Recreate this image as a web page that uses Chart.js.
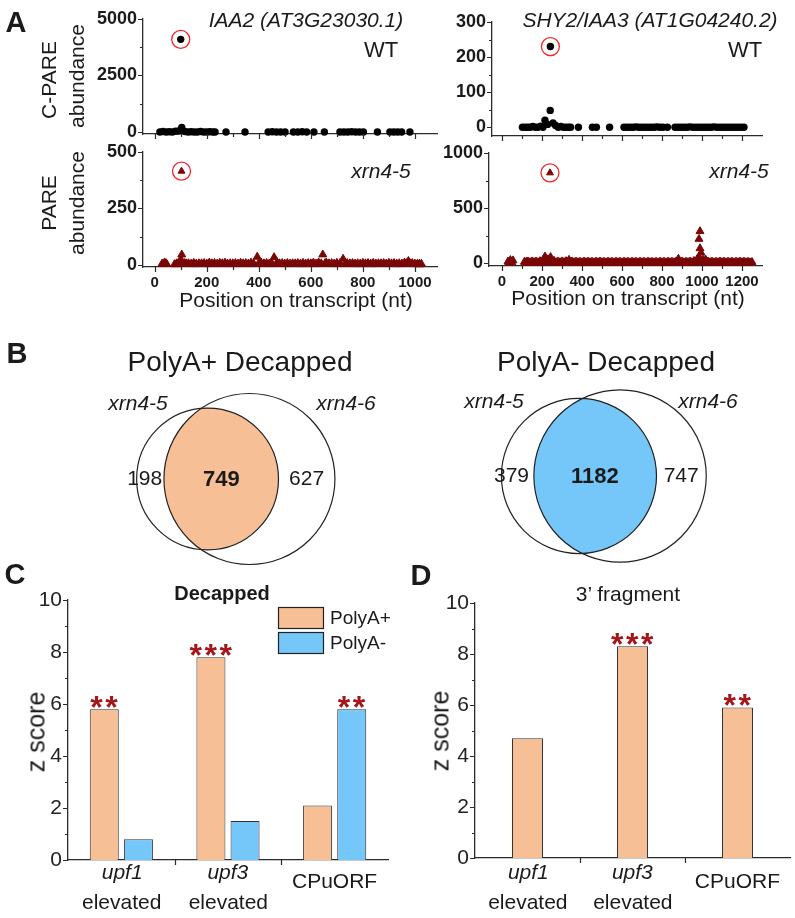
<!DOCTYPE html>
<html><head><meta charset="utf-8">
<title>C-PARE / PARE, Venn and z score panels</title>
<script src="https://cdn.jsdelivr.net/npm/chart.js@4.4.1/dist/chart.umd.min.js"></script>
<style>
html,body{margin:0;padding:0;background:#fff}
body{position:relative;width:795px;height:918px;overflow:hidden;font-family:"Liberation Sans",Arial,Helvetica,sans-serif;color:#1a1a1a}
canvas{position:absolute}
.t{position:absolute;white-space:nowrap;line-height:1;transform:translate(-50%,-50%)}
</style></head><body>
<script>
// ================= DATA =================
// Panel A, IAA2 (AT3G23030.1), WT C-PARE
const iaa2WtPos = [20,32,44,56,68,80,92,104,116,128,140,152,164,176,188,200,212,224,232,274,347,436,452,468,484,501,533,550,567,584,612,652,712,727,742,757,772,787,802,856,904,919,934,949,981];
const iaa2WtVal = [0,20,0,10,0,30,40,200,20,0,10,0,0,20,0,0,10,0,0,0,0,0,10,0,0,0,0,0,10,0,0,0,0,0,0,10,0,0,0,0,0,0,0,0,0];
const iaa2WtPeak = [100, 4100];
// Panel A, IAA2, xrn4-5 PARE (upper layer of the band and low layer)
const iaa2XrnPos = [28,38,46,76,85,100,104,115,130,150,170,190,210,230,250,270,290,310,330,350,370,394,410,430,459,470,490,510,530,550,570,590,610,630,646,660,680,700,724,740,760,780,800,820,840,860,880,900,920,940,960,975,990,1010,1025];
const iaa2XrnVal = [4,10,3,2,6,24,45,7,6,8,6,7,9,7,8,9,6,7,8,7,9,35,8,7,33,11,7,7,6,7,8,7,9,10,45,9,7,8,26,7,7,6,8,7,8,6,7,8,7,6,9,16,7,5,4];
const iaa2XrnLowPos = [33,44,84,92,108,122,140,160,180,200,220,240,260,280,300,320,340,360,380,400,420,440,450,480,500,520,540,560,580,600,620,640,655,670,690,712,732,750,770,790,810,830,850,870,890,910,930,950,968,982,1000,1018];
const iaa2XrnLowVal = [3,4,3,3,5,4,3,3,4,3,4,3,4,3,4,3,4,3,4,5,4,3,5,4,3,3,4,3,3,4,3,4,5,4,3,5,3,4,3,3,4,3,3,4,3,4,3,3,5,4,3,2];
const iaa2XrnPeak = [103, 415];
// Panel A, SHY2/IAA3 (AT1G04240.2), WT C-PARE
const shy2WtPos = [102,115,128,141,154,167,180,193,205,215,228,241,255,268,281,294,307,320,333,343,382,452,472,538,610,625,640,655,670,685,700,715,730,745,760,775,790,805,827,865,880,895,910,925,940,955,970,985,1000,1015,1030,1045,1060,1075,1090,1105,1120,1135,1150,1165,1180,1195,1210];
const shy2WtVal = [0,0,0,0,2,0,0,3,0,20,8,48,12,5,0,2,0,0,0,0,0,0,0,0,0,0,0,0,1,0,0,0,0,0,0,1,0,0,0,0,0,0,0,0,1,0,0,0,0,0,0,0,1,0,0,0,0,0,0,0,0,0,0];
const shy2WtPeak = [242, 230];
// Panel A, SHY2/IAA3, xrn4-5 PARE
const shy2XrnPos = [30,42,55,112,125,130,150,170,190,205,215,230,243,260,280,300,320,335,350,370,390,410,430,450,470,490,510,530,550,570,590,610,630,650,670,690,710,730,750,770,790,810,830,850,870,882,900,920,940,960,975,985,995,990,985,990,1005,1018,1030,1050,1070,1090,1110,1130,1150,1170,1190,1210,1230,1250];
const shy2XrnVal = [15,28,25,12,15,14,16,15,18,30,60,35,55,22,15,16,18,30,15,14,13,15,14,13,14,15,13,14,13,14,13,14,13,14,13,14,13,14,12,13,14,13,14,13,15,40,15,13,15,20,35,55,95,135,220,290,30,32,15,14,13,15,14,13,14,13,15,14,13,10];
const shy2XrnLowPos = [36,48,118,130,140,160,180,198,210,222,236,250,270,290,310,328,342,360,380,400,420,440,460,480,500,520,540,560,580,600,620,640,660,680,700,720,740,760,780,800,820,840,860,876,890,910,930,950,968,980,1000,1012,1024,1040,1060,1080,1100,1120,1140,1160,1180,1200,1220,1240];
const shy2XrnLowVal = [6,8,4,5,5,6,5,6,8,12,10,8,5,5,6,6,8,5,5,4,5,5,4,5,5,4,5,4,5,4,5,4,5,4,5,4,5,4,4,5,4,5,4,8,6,4,5,5,8,10,12,8,6,5,4,5,5,4,5,4,5,5,4,4];
const shy2XrnPeak = [240, 820];

// Tick values, panel A
const iaa2X = [0,200,400,600,800,1000];
const iaa2XMinor = [100,300,500,700,900];
const shy2X = [0,200,400,600,800,1000,1200];
const shy2XMinor = [100,300,500,700,900,1100];
const cpareIaa2Y = [0,2500,5000];   const cpareIaa2YMinor = [1250,3750];
const pareIaa2Y = [0,250,500];      const pareIaa2YMinor = [125,375];
const cpareShy2Y = [0,100,200,300]; const cpareShy2YMinor = [50,150,250];
const pareShy2Y = [0,500,1000];     const pareShy2YMinor = [250,750];

// Panel B, Venn counts: [xrn4-5 only, both, xrn4-6 only]
const vennSets = ['xrn4-5','xrn4-6'];
const polyAPlusVenn = [198, 749, 627];
const polyAMinusVenn = [379, 1182, 747];

// Panels C and D
const zCategories = [['upf1','elevated'],['upf3','elevated'],['CPuORF']];
const decappedPolyAPlus = [5.8, 7.8, 2.1];
const decappedPolyAMinus = [0.8, 1.5, 5.8];
const decappedStarsPlus = ['**','***',''];
const decappedStarsMinus = ['','','**'];
const fragment3PolyAPlus = [4.7, 8.3, 5.9];
const fragment3Stars = ['','***','**'];
const zTicks = [0,2,4,6,8,10];
const zTicksMinor = [1,3,5,7,9];

// ================= STYLE =================
const FONT = '"Liberation Sans", Arial, Helvetica, sans-serif';
const AXIS = '#2b2b2b', INK = '#1a1a1a';
const PEACH = '#F6BF96', SKY = '#75C6F9';
const MAROON = '#7a0606', RING = '#f2262b', STARC = '#a3161b';
Chart.defaults.font.family = FONT;
Chart.defaults.color = INK;

function mkCanvas(left, top, w, h) {
  const c = document.createElement('canvas');
  c.width = w; c.height = h;
  c.style.left = left + 'px'; c.style.top = top + 'px';
  c.style.width = w + 'px'; c.style.height = h + 'px';
  document.body.appendChild(c);
  return c;
}
function label(text, cx, cy, size, o = {}) {
  const d = document.createElement('div');
  d.className = 't'; d.textContent = text;
  d.style.left = cx + 'px'; d.style.top = cy + 'px'; d.style.fontSize = size + 'px';
  if (o.bold) d.style.fontWeight = 'bold';
  if (o.italic) d.style.fontStyle = 'italic';
  if (o.rot) d.style.transform = 'translate(-50%,-50%) rotate(-90deg)';
  document.body.appendChild(d);
}
function pts(xs, ys) { return xs.map((x, i) => ({x, y: ys[i]})); }
function drawCentered(ctx, txt, cx, cy) {
  const m = ctx.measureText(txt);
  ctx.fillText(txt, cx - (m.actualBoundingBoxRight - m.actualBoundingBoxLeft) / 2,
                    cy + (m.actualBoundingBoxAscent - m.actualBoundingBoxDescent) / 2);
}

// Outward tick marks (major + minor)
const tickMarks = {
  id: 'tickMarks',
  afterDraw(chart, args, o) {
    const {ctx, chartArea: a, scales} = chart;
    const X = scales.x, Y = scales.y;
    ctx.save();
    ctx.strokeStyle = AXIS; ctx.lineWidth = 1.2;
    ctx.beginPath();
    const vx = (v, len) => { const p = Math.round(X.getPixelForValue(v)) + 0.5; ctx.moveTo(p, a.bottom); ctx.lineTo(p, a.bottom + len); };
    const vy = (v, len) => { const p = Math.round(Y.getPixelForValue(v)) + 0.5; ctx.moveTo(a.left, p); ctx.lineTo(a.left - len, p); };
    (o.xMajor || []).forEach(v => vx(v, 5));
    (o.xMinor || []).forEach(v => vx(v, 3));
    (o.yMajor || []).forEach(v => vy(v, 5));
    (o.yMinor || []).forEach(v => vy(v, 3));
    if (o.between) {
      const n = chart.data.labels.length;
      for (let i = 0; i < n - 1; i++) {
        const p = Math.round((X.getPixelForValue(i) + X.getPixelForValue(i + 1)) / 2) + 0.5;
        ctx.moveTo(p, a.bottom); ctx.lineTo(p, a.bottom + 5);
      }
    }
    ctx.stroke();
    ctx.restore();
  }
};

function scatterPanel(o) {
  const c = mkCanvas(o.left, o.top, o.w, o.h);
  const A = o.area;
  return new Chart(c, {
    type: 'scatter',
    data: { datasets: o.datasets },
    options: {
      responsive: false, animation: false, devicePixelRatio: 1,
      layout: { autoPadding: false, padding: { left: 0, top: A.t, right: o.w - A.r, bottom: 0 } },
      plugins: { legend: {display: false}, tooltip: {enabled: false},
        tickMarks: { xMajor: o.xMajor, xMinor: o.xMinor, yMajor: o.yMajor, yMinor: o.yMinor } },
      scales: {
        x: { type: 'linear', min: o.xMin, max: o.xMax,
          grid: {display: false, drawTicks: false}, border: {color: AXIS, width: 1.3},
          ticks: { display: !!o.xLabels, font: {size: 15, weight: 'bold'}, color: INK, padding: 7,
                   maxRotation: 0, autoSkip: false, callback: v => String(v) },
          afterBuildTicks: s => { s.ticks = (o.xLabels || []).map(v => ({value: v})); },
          afterFit: s => { s.height = o.h - A.b; s.paddingLeft = 0; s.paddingRight = 0; } },
        y: { type: 'linear', min: o.yMin, max: o.yMax,
          grid: {display: false, drawTicks: false}, border: {color: AXIS, width: 1.3},
          ticks: { font: {size: 18, weight: 'bold'}, color: INK, padding: 6, callback: v => String(v) },
          afterBuildTicks: s => { s.ticks = o.yMajor.map(v => ({value: v})); },
          afterFit: s => { s.width = A.l; s.paddingTop = 0; s.paddingBottom = 0; } }
      }
    },
    plugins: [tickMarks]
  });
}
const ringSet = (p) => ({ data: [{x: p[0], y: p[1]}], pointStyle: 'circle', pointRadius: 9,
  pointBackgroundColor: 'rgba(0,0,0,0)', pointBorderColor: RING, pointBorderWidth: 1.3, clip: false });
const dotSet = (xs, ys) => ({ data: pts(xs, ys), pointStyle: 'circle', pointRadius: 3.7,
  pointBackgroundColor: '#000', pointBorderWidth: 0, clip: false });
const triSet = (xs, ys, r) => ({ data: pts(xs, ys), pointStyle: 'triangle', pointRadius: r,
  pointBackgroundColor: MAROON, pointBorderColor: MAROON, pointBorderWidth: 1, clip: false });

// ---- Panel A charts ----
scatterPanel({ left: 0, top: 0, w: 445, h: 142, area: {l: 143, t: 19, r: 437, b: 134},
  xMin: -45, xMax: 1085, yMin: -90, yMax: 5000,
  xMajor: iaa2X, xMinor: iaa2XMinor, yMajor: cpareIaa2Y, yMinor: cpareIaa2YMinor,
  datasets: [dotSet(iaa2WtPos, iaa2WtVal), dotSet([iaa2WtPeak[0]], [iaa2WtPeak[1]]), ringSet(iaa2WtPeak)] });
scatterPanel({ left: 0, top: 142, w: 445, h: 150, area: {l: 143, t: 10, r: 437, b: 125},
  xMin: -45, xMax: 1085, yMin: -10, yMax: 500, xLabels: iaa2X,
  xMajor: iaa2X, xMinor: iaa2XMinor, yMajor: pareIaa2Y, yMinor: pareIaa2YMinor,
  datasets: [triSet(iaa2XrnLowPos, iaa2XrnLowVal, 5), triSet(iaa2XrnPos, iaa2XrnVal, 4.6),
             triSet([iaa2XrnPeak[0]], [iaa2XrnPeak[1]], 4), ringSet(iaa2XrnPeak)] });
scatterPanel({ left: 430, top: 0, w: 365, h: 142, area: {l: 62, t: 22, r: 332, b: 136},
  xMin: -50, xMax: 1300, yMin: -25, yMax: 300,
  xMajor: shy2X, xMinor: shy2XMinor, yMajor: cpareShy2Y, yMinor: cpareShy2YMinor,
  datasets: [dotSet(shy2WtPos, shy2WtVal), dotSet([shy2WtPeak[0]], [shy2WtPeak[1]]), ringSet(shy2WtPeak)] });
scatterPanel({ left: 430, top: 142, w: 365, h: 150, area: {l: 59, t: 11, r: 332, b: 124},
  xMin: -65, xMax: 1300, yMin: -25, yMax: 1000, xLabels: shy2X,
  xMajor: shy2X, xMinor: shy2XMinor, yMajor: pareShy2Y, yMinor: pareShy2YMinor,
  datasets: [triSet(shy2XrnLowPos, shy2XrnLowVal, 5), triSet(shy2XrnPos, shy2XrnVal, 4.6),
             triSet([shy2XrnPeak[0]], [shy2XrnPeak[1]], 4), ringSet(shy2XrnPeak)] });

// ---- Panel B: area-proportional Venn diagrams ----
function lensArea(r1, r2, d) {
  if (d >= r1 + r2) return 0;
  if (d <= Math.abs(r1 - r2)) return Math.PI * Math.min(r1, r2) ** 2;
  const a = r1 * r1 * Math.acos((d * d + r1 * r1 - r2 * r2) / (2 * d * r1));
  const b = r2 * r2 * Math.acos((d * d + r2 * r2 - r1 * r1) / (2 * d * r2));
  const c = 0.5 * Math.sqrt((-d + r1 + r2) * (d + r1 - r2) * (d - r1 + r2) * (d + r1 + r2));
  return a + b - c;
}
function vennCircles(counts, rBig, cx, cy) {
  const [a, ab, b] = counts;
  const nA = a + ab, nB = b + ab;
  const k = rBig / Math.sqrt(Math.max(nA, nB));
  const rA = k * Math.sqrt(nA), rB = k * Math.sqrt(nB);
  const target = Math.PI * k * k * ab;
  let lo = Math.abs(rA - rB) + 1e-6, hi = rA + rB;
  for (let i = 0; i < 80; i++) { const m = (lo + hi) / 2; if (lensArea(rA, rB, m) > target) lo = m; else hi = m; }
  const d = (lo + hi) / 2;
  return [{x: cx - d / 2, y: cy, r: rA}, {x: cx + d / 2, y: cy, r: rB}];
}
const vennDiagrams = [
  { counts: polyAPlusVenn, fill: PEACH, rBig: 85.5, cx: 228.5, cy: 479 },
  { counts: polyAMinusVenn, fill: SKY, rBig: 86.2, cx: 599.5, cy: 476 }
];
const vennLens = {
  id: 'vennLens',
  beforeDatasetsDraw(chart) {
    const ctx = chart.ctx;
    vennDiagrams.forEach((v, di) => {
      const [A, B] = chart.getDatasetMeta(di).data;
      ctx.save();
      ctx.beginPath(); ctx.arc(A.x, A.y, A.options.radius, 0, 2 * Math.PI); ctx.clip();
      ctx.beginPath(); ctx.arc(B.x, B.y, B.options.radius, 0, 2 * Math.PI);
      ctx.fillStyle = v.fill; ctx.fill();
      ctx.restore();
    });
  },
  afterDatasetsDraw(chart) {
    const ctx = chart.ctx;
    ctx.save(); ctx.fillStyle = INK;
    vennDiagrams.forEach((v, di) => {
      const [A, B] = chart.getDatasetMeta(di).data;
      const rA = A.options.radius, rB = B.options.radius;
      const lA = A.x - rA, lB = B.x - rB, rgA = A.x + rA, rgB = B.x + rB;
      const y = A.y - 1;
      ctx.font = '21px ' + FONT;
      drawCentered(ctx, String(v.counts[0]), lA + 0.3 * (lB - lA), y);
      drawCentered(ctx, String(v.counts[2]), (rgA + rgB) / 2, y);
      ctx.font = 'bold 22px ' + FONT;
      drawCentered(ctx, String(v.counts[1]), (lB + rgA) / 2, y);
    });
    ctx.restore();
  }
};
{
  const c = mkCanvas(0, 330, 795, 245);
  new Chart(c, {
    type: 'bubble',
    data: { datasets: vennDiagrams.map(v => ({
      label: vennSets.join(' / '),
      data: vennCircles(v.counts, v.rBig, v.cx, v.cy),
      backgroundColor: 'rgba(0,0,0,0)', borderColor: '#222', borderWidth: 1.2, clip: false })) },
    options: {
      responsive: false, animation: false, devicePixelRatio: 1,
      layout: { autoPadding: false, padding: 0 },
      plugins: { legend: {display: false}, tooltip: {enabled: false} },
      scales: { x: { type: 'linear', min: 0, max: 795, display: false },
                y: { type: 'linear', min: 330, max: 575, reverse: true, display: false } }
    },
    plugins: [vennLens]
  });
}

// ---- Panels C and D: bar charts ----
const barDecor = {
  id: 'barDecor',
  afterDatasetsDraw(chart, args, o) {
    const ctx = chart.ctx, X = chart.scales.x;
    ctx.save();
    // significance stars
    ctx.fillStyle = STARC; ctx.font = 'bold 32px ' + FONT;
    chart.data.datasets.forEach((ds, di) => {
      chart.getDatasetMeta(di).data.forEach((el, i) => {
        const s = (ds.stars || [])[i] || '';
        for (let j = 0; j < s.length; j++)
          drawCentered(ctx, '*', el.x + (j - (s.length - 1) / 2) * 15, el.y - 7.5);
      });
    });
    // category labels
    ctx.fillStyle = INK;
    zCategories.forEach((lines, i) => {
      const x = X.getPixelForValue(i);
      if (lines.length > 1) {
        ctx.font = 'italic 21px ' + FONT; drawCentered(ctx, lines[0], x, o.line1);
        ctx.font = '21px ' + FONT; drawCentered(ctx, lines[1], x, o.line2);
      } else {
        ctx.font = '21px ' + FONT; drawCentered(ctx, lines[0], x, o.single);
      }
    });
    // legend
    if (o.legend) {
      const L = o.legend;
      chart.data.datasets.forEach((ds, di) => {
        const y = L.y + di * L.step;
        ctx.fillStyle = ds.backgroundColor; ctx.fillRect(L.x, y, L.w, L.h);
        ctx.strokeStyle = '#222'; ctx.lineWidth = 1.2; ctx.strokeRect(L.x + 0.5, y + 0.5, L.w, L.h);
        ctx.fillStyle = INK; ctx.font = '19px ' + FONT; ctx.textBaseline = 'middle';
        ctx.fillText(ds.label, L.x + L.w + 7, y + L.h / 2 + 1);
        ctx.textBaseline = 'alphabetic';
      });
    }
    ctx.restore();
  }
};
function barPanel(o) {
  const c = mkCanvas(o.left, o.top, o.w, o.h);
  const A = o.area;
  return new Chart(c, {
    type: 'bar',
    data: { labels: zCategories.map(l => l.join(' ')), datasets: o.datasets },
    options: {
      responsive: false, animation: false, devicePixelRatio: 1,
      layout: { autoPadding: false, padding: { left: 0, top: A.t, right: o.w - A.r, bottom: 0 } },
      plugins: { legend: {display: false}, tooltip: {enabled: false},
        tickMarks: { yMajor: zTicks, yMinor: zTicksMinor, between: true },
        barDecor: { line1: 313, line2: 341, single: 321, legend: o.legend } },
      scales: {
        x: { grid: {display: false, drawTicks: false}, border: {color: AXIS, width: 1.3}, ticks: {display: false},
          afterFit: s => { s.height = o.h - A.b; s.paddingLeft = 0; s.paddingRight = 0; } },
        y: { min: 0, max: 10, grid: {display: false, drawTicks: false}, border: {color: AXIS, width: 1.3},
          ticks: { font: {size: 21}, color: '#222', padding: 6, callback: v => String(v) },
          afterBuildTicks: s => { s.ticks = zTicks.map(v => ({value: v})); },
          afterFit: s => { s.width = A.l; s.paddingTop = 0; s.paddingBottom = 0; } }
      }
    },
    plugins: [tickMarks, barDecor]
  });
}
barPanel({ left: 0, top: 560, w: 400, h: 358, area: {l: 68, t: 40, r: 388, b: 300},
  legend: { x: 278, y: 47, w: 45, h: 21, step: 25 },
  datasets: [
    { label: 'PolyA+', data: decappedPolyAPlus, stars: decappedStarsPlus, backgroundColor: PEACH,
      borderColor: '#333', borderWidth: 1, categoryPercentage: 0.64, barPercentage: 0.85 },
    { label: 'PolyA-', data: decappedPolyAMinus, stars: decappedStarsMinus, backgroundColor: SKY,
      borderColor: '#333', borderWidth: 1, categoryPercentage: 0.64, barPercentage: 0.85 }
  ] });
barPanel({ left: 395, top: 560, w: 400, h: 358, area: {l: 80, t: 43, r: 395, b: 298},
  datasets: [
    { label: 'PolyA+', data: fragment3PolyAPlus, stars: fragment3Stars, backgroundColor: PEACH,
      borderColor: '#333', borderWidth: 1, categoryPercentage: 1, barPercentage: 0.295 }
  ] });

// ================= TEXT =================
label('A', 16, 22, 29, {bold: true});
label('B', 17, 353, 29, {bold: true});
label('C', 15, 574, 29, {bold: true});
label('D', 421, 575, 29, {bold: true});
label('IAA2 (AT3G23030.1)', 306, 19, 21, {italic: true});
label('WT', 381, 50, 22);
label('SHY2/IAA3 (AT1G04240.2)', 650, 19, 21, {italic: true});
label('WT', 745, 50, 22);
label('xrn4-5', 381, 170, 21, {italic: true});
label('xrn4-5', 739, 170, 21, {italic: true});
label('C-PARE', 48, 80, 21, {rot: true});
label('abundance', 76, 76, 21, {rot: true});
label('PARE', 48, 203, 21, {rot: true});
label('abundance', 76, 203, 21, {rot: true});
label('Position on transcript (nt)', 296, 299, 21);
label('Position on transcript (nt)', 628, 297, 21);
label('PolyA+ Decapped', 240, 362, 28);
label('PolyA- Decapped', 606, 362, 28);
label(vennSets[0], 138, 402, 21, {italic: true});
label(vennSets[1], 346, 402, 21, {italic: true});
label(vennSets[0], 494, 400, 21, {italic: true});
label(vennSets[1], 708, 400, 21, {italic: true});
label('Decapped', 222, 593, 20, {bold: true});
label('3\u2019 fragment', 628, 593, 21);
label('z score', 36, 732, 25, {rot: true});
label('z score', 440, 731, 25, {rot: true});
</script>
</body></html>
